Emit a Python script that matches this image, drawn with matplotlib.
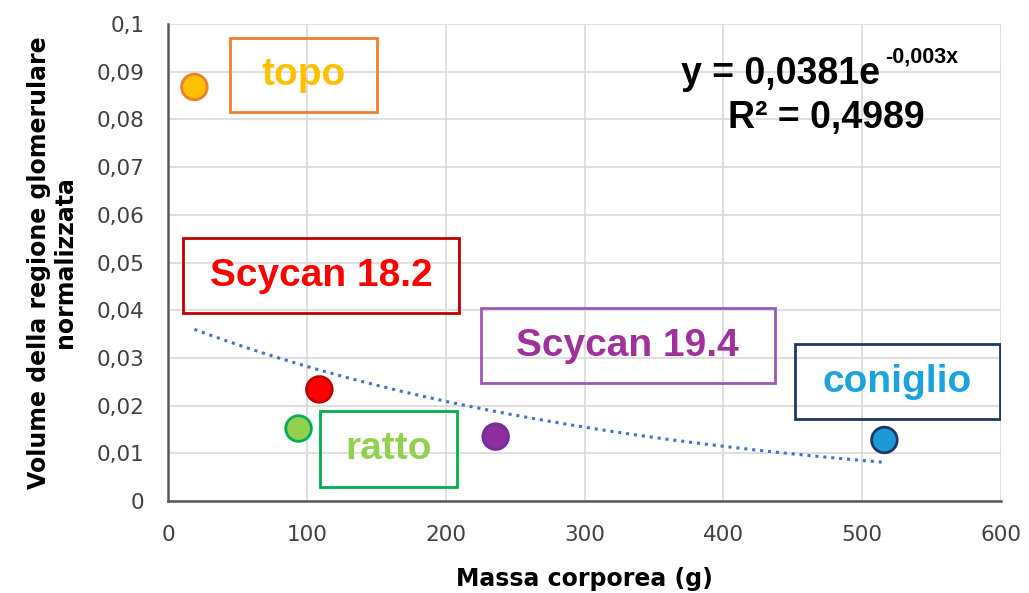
import numpy as np
import matplotlib
matplotlib.use("Agg")
import matplotlib.pyplot as plt
from matplotlib.patches import Rectangle
from matplotlib.ticker import FuncFormatter

# data
animals = ['topo', 'Scycan 18.2', 'ratto', 'Scycan 19.4', 'coniglio']
massa = [19, 109, 94, 236, 516]
volume = [0.0868, 0.0234, 0.0152, 0.0135, 0.0128]

fill_colors = ['#FFC000', '#FF0000', '#92D050', '#8E2D9C', '#1A9AD6']
edge_colors = ['#ED7D31', '#C00000', '#00B050', '#7030A0', '#1F3864']
text_colors = ['#FFC000', '#FF0000', '#92D050', '#A0309A', '#1CA3DE']
box_colors = ['#ED7D31', '#C00000', '#00B050', '#9B59B6', '#1F3864']

# label boxes (x0, y0, x1, y1) in data units
boxes = [
    (44.6, 0.0816, 150.5, 0.0971),
    (10.8, 0.0394, 209.5, 0.0551),
    (109.4, 0.0029, 208.0, 0.0189),
    (225.4, 0.0247, 437.0, 0.0405),
    (451.4, 0.0172, 599.0, 0.0329),
]

# exponential trendline shown on the chart
coef_a = 0.0381
coef_b = -0.003
eq_text = 'y = 0,0381e'
eq_exp = '-0,003x'
r2_text = 'R\u00b2 = 0,4989'

fig = plt.figure(figsize=(10.29, 5.93), dpi=100)
ax = fig.add_axes([0.1633, 0.1551, 0.8095, 0.8044])

ax.set_xlim(0, 600)
ax.set_ylim(0, 0.1)
ax.set_xticks(np.arange(0, 601, 100))
ax.set_yticks(np.arange(0, 0.1001, 0.01))
ax.yaxis.set_major_formatter(FuncFormatter(
    lambda v, p: '0' if abs(v) < 1e-9 else ('%g' % round(v, 2)).replace('.', ',')))
ax.grid(True, color='#D9D9D9', lw=1.2)
ax.set_axisbelow(True)
for s in ['top', 'right']:
    ax.spines[s].set_visible(False)
for s in ['left', 'bottom']:
    ax.spines[s].set_color('#595959')
    ax.spines[s].set_linewidth(1.8)
ax.tick_params(length=0, labelsize=15.5, labelcolor='#404040', pad=17)

xs = np.linspace(min(massa), max(massa), 200)
ax.plot(xs, coef_a * np.exp(coef_b * xs), color='#4472C4',
        lw=2.2, linestyle=(0, (1, 1.6)), zorder=2)

ax.scatter(massa, volume, s=340, c=fill_colors, edgecolors=edge_colors,
           linewidths=2, zorder=4)

for name, b, tc, bc in zip(animals, boxes, text_colors, box_colors):
    ax.add_patch(Rectangle((b[0], b[1]), b[2] - b[0], b[3] - b[1],
                           fill=False, edgecolor=bc, lw=2, zorder=3))
    ax.text((b[0] + b[2]) / 2, (b[1] + b[3]) / 2, name, color=tc,
            fontsize=28, fontweight='bold', family='Liberation Sans',
            ha='center', va='center', zorder=5)

ax.text(0.855, 0.874, eq_text, transform=ax.transAxes, ha='right',
        va='baseline', fontsize=27, fontweight='bold', family='Liberation Sans')
ax.text(0.861, 0.92, eq_exp, transform=ax.transAxes, ha='left',
        va='baseline', fontsize=15.5, fontweight='bold', family='Liberation Sans')
ax.text(0.79, 0.782, r2_text, transform=ax.transAxes, ha='center',
        va='baseline', fontsize=27, fontweight='bold', family='Liberation Sans')

ax.set_xlabel('Massa corporea (g)', fontsize=17, fontweight='bold', labelpad=16)
ax.set_ylabel('Volume della regione glomerulare\nnormalizzata', fontsize=17,
              fontweight='bold', labelpad=14, linespacing=1.1)

fig.savefig('out.png', dpi=100)
